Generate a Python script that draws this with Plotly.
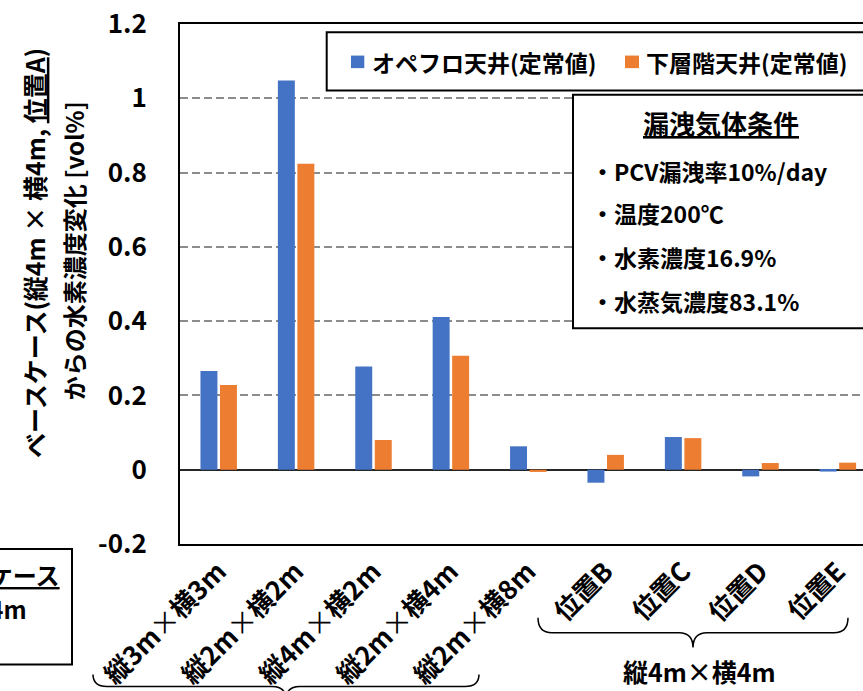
import plotly.graph_objects as go

# Categories and values (change in hydrogen concentration from base case, vol%)
categories = ["縦3m×横3m", "縦2m×横2m", "縦4m×横2m", "縦2m×横4m", "縦2m×横8m",
              "位置B", "位置C", "位置D", "位置E"]
tick_text = ["縦3m<span style='font-weight:normal'>×</span>横3m",
             "縦2m<span style='font-weight:normal'>×</span>横2m",
             "縦4m<span style='font-weight:normal'>×</span>横2m",
             "縦2m<span style='font-weight:normal'>×</span>横4m",
             "縦2m<span style='font-weight:normal'>×</span>横8m",
             "位置B", "位置C", "位置D", "位置E"]
series_names = ["オペフロ天井(定常値)", "下層階天井(定常値)"]
opefloor = [0.266, 1.048, 0.278, 0.411, 0.063, -0.035, 0.088, -0.018, -0.005]
lower_floor = [0.228, 0.824, 0.080, 0.307, -0.006, 0.040, 0.085, 0.018, 0.019]
colors = ["#4472C4", "#ED7D31"]

y_tickvals = [-0.2, 0, 0.2, 0.4, 0.6, 0.8, 1.0, 1.2]
y_ticktext = ["-0.2", "0", "0.2", "0.4", "0.6", "0.8", "1", "1.2"]

conditions_title = "漏洩気体条件"
conditions = ["・PCV漏洩率10%/day", "・温度200℃", "・水素濃度16.9%", "・水蒸気濃度83.1%"]

FONT = "Noto Sans CJK JP"
W, H = 863, 691
L, T, R_EDGE, B = 180, 24, 863, 546      # plot area in pixels
PW, PH = R_EDGE - L, B - T
CAT_STEP = 77.4                             # pixels per category


def fx(p):
    return (p - L) / PW


def fy(p):
    return (B - p) / PH


x_idx = list(range(len(categories)))
x_max = -0.5 + PW / CAT_STEP

fig = go.Figure()
for name, vals, col in zip(series_names, [opefloor, lower_floor], colors):
    fig.add_trace(go.Bar(x=x_idx, y=vals, name=name, marker_color=col,
                         marker_line_width=0, showlegend=False))

fig.update_layout(
    width=W, height=H,
    margin=dict(l=L, r=W - R_EDGE, t=T, b=H - B, pad=0),
    plot_bgcolor="white", paper_bgcolor="white",
    barmode="group", bargap=0.496, bargroupgap=0.13,
    font=dict(family=FONT, color="black"),
)

fig.update_xaxes(
    range=[-0.5, x_max], tickvals=x_idx, ticktext=tick_text, tickangle=-45,
    tickfont=dict(family=FONT, size=26, weight="bold", color="black"),
    showline=True, linecolor="black", linewidth=2, mirror=True,
    showgrid=False, ticks="", zeroline=False,
)
fig.update_yaxes(
    range=[-0.2, 1.2], tickvals=y_tickvals, ticktext=y_ticktext,
    tickfont=dict(family=FONT, size=26, weight="bold", color="black"),
    ticklabelstandoff=26,
    showline=True, linecolor="black", linewidth=2, mirror=False,
    showgrid=True, gridcolor="#8c8c8c", gridwidth=1.5, griddash="8px,4px",
    zeroline=True, zerolinecolor="#262626", zerolinewidth=2, ticks="",
)

shapes = []
annotations = []


def rect(x0, y0, x1, y1, fill="white", line_col="black", lw=2):
    shapes.append(dict(type="rect", xref="paper", yref="paper",
                       x0=fx(x0), x1=fx(x1), y0=fy(y0), y1=fy(y1),
                       fillcolor=fill, line=dict(color=line_col, width=lw),
                       layer="above"))


def text(s, x, y, size, xanchor="left", angle=0):
    annotations.append(dict(text=s, x=fx(x), y=fy(y), xref="paper", yref="paper",
                            xanchor=xanchor, yanchor="middle", showarrow=False,
                            textangle=angle,
                            font=dict(family=FONT, size=size, weight="bold", color="black")))


UL = "<span style='text-decoration:underline'>{}</span>"

# legend box
rect(326.7, 32.3, 880, 90.7)
rect(351, 55.7, 364.3, 68.3, fill=colors[0], line_col=colors[0], lw=0)
rect(625, 55.7, 639, 68.3, fill=colors[1], line_col=colors[1], lw=0)
text(series_names[0], 370, 62, 23)
text(series_names[1], 644, 62, 23)

# leak-gas conditions box
rect(573, 95, 880, 329.3)
text(UL.format(conditions_title), 721, 123, 26, xanchor="center")
for s, yy in zip(conditions, [171.7, 214, 257.5, 302.5]):
    text(s, 589, yy, 23)

# base-case box at lower left
rect(-20, 551, 72, 667)
text(UL.format("ベースケース"), 62, 577, 24, xanchor="right")
text("縦4m×横4m", 29, 611, 24, xanchor="right")

# y-axis title (two columns)
text("ベースケース(縦4m × 横4m, " + UL.format("位置A") + ")", 34, 254, 25,
     xanchor="center", angle=-90)
text("からの水素濃度変化 [vol%]", 73, 252, 24, xanchor="center", angle=-90)

# group label for position cases
text("縦4m×横4m", 699, 673, 25, xanchor="center")


def path(points_cmds):
    out = []
    for cmd, pts in points_cmds:
        coords = " ".join(f"{fx(a):.5f},{fy(b):.5f}" for a, b in pts)
        out.append(f"{cmd}{coords}")
    return " ".join(out)


def brace(x0, x1, yline, yend, ytip, r=14):
    xm = (x0 + x1) / 2
    return path([
        ("M", [(x0, yend)]),
        ("Q", [(x0, yline), (x0 + r, yline)]),
        ("L", [(xm - r, yline)]),
        ("Q", [(xm, yline), (xm, ytip)]),
        ("Q", [(xm, yline), (xm + r, yline)]),
        ("L", [(x1 - r, yline)]),
        ("Q", [(x1, yline), (x1, yend)]),
    ])


shapes.append(dict(type="path", xref="paper", yref="paper",
                   path=brace(538, 848, 635, 620, 650),
                   line=dict(color="black", width=1.5), layer="above"))
shapes.append(dict(type="path", xref="paper", yref="paper",
                   path=brace(93, 479, 689, 677, 702),
                   line=dict(color="black", width=1.5), layer="above"))

fig.update_layout(shapes=shapes, annotations=annotations)
fig.write_html("out.html")
